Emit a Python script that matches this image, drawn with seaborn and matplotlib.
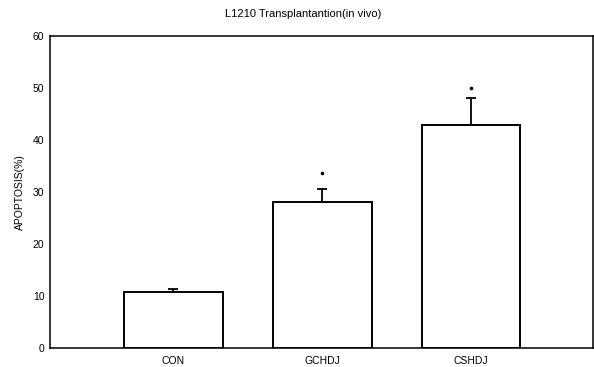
import matplotlib
matplotlib.use("Agg")
import matplotlib.pyplot as plt
import seaborn as sns
import pandas as pd
import numpy as np

categories = ["CON", "GCHDJ", "CSHDJ"]
apoptosis = [10.8, 28.1, 42.9]
err_upper = [0.5, 2.5, 5.1]
star_y = [None, 33.7, 50.0]
yticks = [0, 10, 20, 30, 40, 50, 60]

sns.set_style("white")
plt.rcParams['font.family'] = ['Liberation Sans', 'DejaVu Sans']
plt.rcParams['text.color'] = 'black'
plt.rcParams['xtick.color'] = 'black'
plt.rcParams['ytick.color'] = 'black'
plt.rcParams['axes.labelcolor'] = 'black'

fig = plt.figure(figsize=(5.94, 3.67), dpi=100)
ax = fig.add_axes([0.0842, 0.052, 0.914, 0.850])

df = pd.DataFrame({"group": categories, "value": apoptosis})
sns.barplot(data=df, x="group", y="value", ax=ax, color="white",
            edgecolor="black", linewidth=1.4, width=0.665, errorbar=None)

x = np.arange(len(categories))
ax.errorbar(x, apoptosis, yerr=[np.zeros(len(err_upper)), err_upper],
            fmt="none", ecolor="black", elinewidth=1.3, capsize=3.5, capthick=1.3)
for xi, sy in zip(x, star_y):
    if sy is not None:
        ax.plot([xi], [sy], marker="o", markersize=1.6, color="black", linestyle="none")

ax.set_xlim(-0.83, 2.82)
ax.set_ylim(0, 60)
ax.set_yticks(yticks)
ax.set_yticklabels([str(t) for t in yticks])
ax.tick_params(axis="y", direction="in", length=3, width=0.8, labelsize=7.5, pad=4)
ax.tick_params(axis="x", length=0, labelsize=7.5, pad=6)
for s in ax.spines.values():
    s.set_visible(True)
    s.set_color("black")
    s.set_linewidth(1.1)
ax.set_xlabel("")
ax.set_ylabel("APOPTOSIS(%)", fontsize=7.5, labelpad=6)
fig.text(0.51, 0.962, "L1210 Transplantantion(in vivo)", fontsize=8,
         ha="center", va="center")

fig.savefig("out.png", dpi=100)
